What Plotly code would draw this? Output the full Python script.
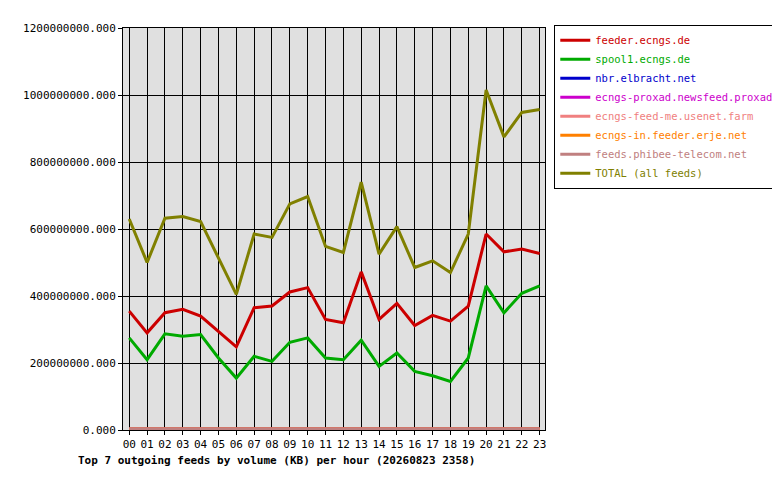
import plotly.graph_objects as go

hours = [f"{h:02d}" for h in range(24)]
feeder = [355,290,350,360,340,295,248,365,370,412,425,330,320,472,330,378,312,342,325,370,585,532,540,527]
spool1 = [275,210,287,280,285,215,155,220,205,262,275,215,210,268,190,230,175,162,145,215,430,350,408,430]
total = [630,500,632,637,622,515,405,585,575,675,697,548,530,740,525,607,485,505,470,585,1015,875,948,957]
small = [3]*24

series = [
    ("feeder.ecngs.de", feeder, "#cc0000"),
    ("spool1.ecngs.de", spool1, "#00aa00"),
    ("nbr.elbracht.net", small, "#0000cc"),
    ("ecngs-proxad.newsfeed.proxad.net", small, "#cc00cc"),
    ("ecngs-feed-me.usenet.farm", small, "#f08080"),
    ("ecngs-in.feeder.erje.net", small, "#ff8000"),
    ("feeds.phibee-telecom.net", small, "#c08080"),
    ("TOTAL (all feeds)", total, "#808000"),
]

fig = go.Figure()
for name, vals, col in series:
    fig.add_trace(go.Scatter(x=hours, y=[v*1e6 for v in vals],
                             name=f"<span style='color:{col}'>{name}</span>", mode="lines",
                             line=dict(color=col, width=3)))

font = "DejaVu Sans Mono"
fig.update_layout(
    width=780, height=480, paper_bgcolor="white", plot_bgcolor="#e0e0e0",
    margin=dict(l=115, r=243, t=20, b=58, autoexpand=False),
    font=dict(family=font, size=11, color="black"),
    showlegend=True,
    legend=dict(x=1.022, y=1.008, xanchor="left", yanchor="top", bordercolor="black",
                borderwidth=1, bgcolor="white", tracegroupgap=0, font=dict(size=10.5),
                itemwidth=30),
    xaxis=dict(showgrid=True, gridcolor="black", gridwidth=1, showline=True, linecolor="black",
               mirror=True, ticks="outside", ticklen=4, tickcolor="black", range=[-0.35, 23.3],
               automargin=False),
    yaxis=dict(range=[0, 1.2e9], dtick=2e8, tickformat=".3f", showgrid=True, gridcolor="black",
               showline=True, linecolor="black", mirror=True, zeroline=False, ticks="outside",
               ticklen=4, tickcolor="black", automargin=False),
    annotations=[dict(text="<b>Top 7 outgoing feeds by volume (KB) per hour (20260823 2358)</b>",
                      xref="paper", yref="paper", x=-0.112, y=-0.055, xanchor="left",
                      yanchor="top", showarrow=False, font=dict(size=11))],
)
fig.write_html("out.html")
